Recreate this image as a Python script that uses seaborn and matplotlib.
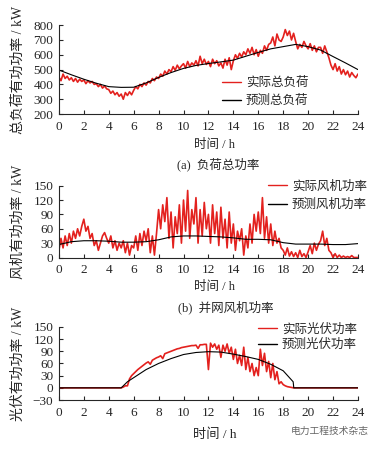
import numpy as np
import matplotlib
matplotlib.use("Agg")
import matplotlib.pyplot as plt
import seaborn as sns

hours = np.arange(25)
t10 = np.arange(145) / 6

load_forecast = [497, 465, 435, 408, 385, 380, 381, 410, 447, 480, 508, 528, 541,
                 552, 564, 590, 616, 640, 655, 670, 655, 632, 588, 545, 500]
load_actual = [
    450, 425, 470, 440, 455, 430,
    445, 420, 440, 415, 435, 420,
    430, 405, 425, 410, 420, 400,
    405, 385, 400, 375, 390, 370,
    365, 340, 355, 330, 345, 320,
    335, 300, 345, 325, 350, 330,
    360, 385, 370, 400, 385, 410,
    395, 420, 410, 440, 425, 450,
    440, 470, 455, 490, 470, 500,
    485, 520, 495, 530, 505, 525,
    540, 510, 555, 520, 545, 530,
    560, 525, 590, 540, 570, 535,
    555, 520, 570, 540, 560, 525,
    545, 510, 570, 530, 580, 500,
    560, 600, 575, 610, 585, 620,
    600, 640, 610, 650, 600, 635,
    590, 630, 610, 660, 630, 670,
    680, 720, 660, 740, 700, 690,
    720, 770, 730, 760, 700, 745,
    690, 640, 670, 650, 690, 660,
    640, 675, 630, 660, 620, 650,
    650, 610, 660, 620, 580, 530,
    500, 540, 490, 520, 470, 500,
    465, 490, 450, 480, 460, 445,
    470]

wind_forecast = [27, 33, 35, 35, 34, 32, 32, 33, 37, 43, 45, 45, 44,
                 43, 41, 38, 38, 37, 31, 28, 28, 28, 27, 27, 29]
wind_actual = [
    15, 40, 20, 45, 25, 50,
    30, 55, 40, 60, 45, 65,
    80, 55, 65, 40, 50, 25,
    35, 15, 30, 45, 52, 40,
    30, 45, 20, 35, 15, 30,
    20, 35, 10, 30, 5, 25,
    20, 45, 15, 50, 25, 55,
    35, 60, 10, 45, 5, 50,
    100, 60, 110, 75, 125, 40,
    95, 20, 85, 50, 110, 30,
    120, 55, 140, 40, 100, 70,
    125, 30, 100, 45, 115, 60,
    90, 30, 110, 50, 95, 25,
    105, 40, 80, 20, 95, 30,
    70, 15, 55, 35, 60, 5,
    45, 20, 70, 30, 90, 55,
    95, 50, 125, 40, 85, 30,
    70, 25, 55, 30, 40, 20,
    15, 5, 20, 3, 12, 2,
    10, 0, 15, 2, 8, 0,
    12, 25, 8, 30, 15, 28,
    35, 55, 25, 40, 15, 10,
    0, 8, 0, 5, 0, 3,
    0, 2, 0, 4, 0, 0,
    0]

pv_forecast_t = [0, 5, 5.5, 6, 7, 8, 9, 10, 11, 12, 13, 14, 15, 16, 17, 18, 18.8, 18.85, 24]
pv_forecast = [0, 0, 15, 25, 45, 60, 72, 82, 87, 89, 88, 83, 77, 70, 58, 42, 15, 0, 0]
pv_actual = [
    0, 0, 0, 0, 0, 0,
    0, 0, 0, 0, 0, 0,
    0, 0, 0, 0, 0, 0,
    0, 0, 0, 0, 0, 0,
    0, 0, 0, 0, 0, 0,
    0, 2, 5, 5, 22, 30,
    35, 40, 45, 49, 53, 57,
    61, 64, 58, 68, 71, 74,
    76, 79, 72, 84, 86, 88,
    90, 92, 94, 96, 97, 99,
    100, 101, 102, 103, 104, 104,
    105, 97, 106, 106, 107, 107,
    45, 110, 100, 108, 95, 105,
    75, 105, 90, 108, 85, 100,
    70, 95, 60, 80, 55, 100,
    45, 75, 40, 60, 30, 50,
    30, 95, 55, 85, 40, 65,
    25, 60, 20, 40, 10, 15,
    8, 5, 3, 2, 1, 0,
    0, 0, 0, 0, 0, 0,
    0, 0, 0, 0, 0, 0,
    0, 0, 0, 0, 0, 0,
    0, 0, 0, 0, 0, 0,
    0, 0, 0, 0, 0, 0,
    0]

sns.set_style("ticks")
fonts = ["Liberation Serif", "Noto Sans CJK SC"]
plt.rcParams["font.family"] = fonts
plt.rcParams["font.size"] = 9
plt.rcParams["xtick.direction"] = "in"
plt.rcParams["ytick.direction"] = "in"
plt.rcParams["axes.linewidth"] = 0.8

red = "#e3211e"
fig = plt.figure(figsize=(3.8, 4.49), dpi=100)

panels = [
    # rect, ylim, yticks, ylabel, legend labels, legend anchor
    ([0.155, 0.746, 0.787, 0.198], (200, 800), range(200, 801, 100), "总负荷有功功率 / kW",
     ("实际总负荷", "预测总负荷"), (0.545, 0.247), 0.5),
    ([0.155, 0.4265, 0.787, 0.160], (0, 150), range(0, 151, 30), "风机有功功率 / kW",
     ("实际风机功率", "预测风机功率"), (0.699, 0.86), 0.5),
    ([0.155, 0.109, 0.787, 0.163], (-30, 150), range(-30, 151, 30), "光伏有功功率 / kW",
     ("实际光伏功率", "预测光伏功率"), (0.666, 0.856), 0.25),
]
series = [
    (t10, load_actual, hours, load_forecast),
    (t10, wind_actual, hours, wind_forecast),
    (t10, pv_actual, pv_forecast_t, pv_forecast),
]

for (rect, ylim, yticks, ylabel, labels, anchor, lspace), (xa, ya, xf, yf) in zip(panels, series):
    ax = fig.add_axes(rect)
    sns.lineplot(x=xa, y=ya, ax=ax, color=red, lw=1.2, label=labels[0], estimator=None, sort=False)
    sns.lineplot(x=xf, y=yf, ax=ax, color="black", lw=0.8, label=labels[1], estimator=None, sort=False)
    ax.set_xlim(0, 24)
    ax.set_ylim(*ylim)
    ax.set_xticks(range(0, 25, 2))
    ax.set_yticks(list(yticks))
    ax.tick_params(length=3, width=0.8, pad=4, labelsize=9.5)
    ax.tick_params(axis="x", pad=5)
    sns.despine(ax=ax)
    ax.set_xlabel("")
    ax.set_ylabel(ylabel, fontsize=10)
    ax.yaxis.set_label_coords(-0.115, 0.5)
    leg = ax.legend(loc="center left", bbox_to_anchor=anchor, frameon=False, fontsize=9,
                    handlelength=1.5, handletextpad=0.4, borderpad=0, borderaxespad=0,
                    labelspacing=lspace)
    for line in leg.get_lines():
        line.set_linewidth(1.0)

# axis titles and captions
fig.text(0.565, 1 - 145 / 449, "时间 / h", ha="center", va="center", fontsize=9)
fig.text(0.565, 1 - 287 / 449, "时间 / h", ha="center", va="center", fontsize=9)
fig.text(0.565, 1 - 435 / 449, "时间 / h", ha="center", va="center", fontsize=9.5)
fig.text(0.575, 1 - 164 / 449, "(a)  负荷总功率", ha="center", va="center", fontsize=9)
fig.text(0.595, 1 - 307 / 449, "(b)  并网风机功率", ha="center", va="center", fontsize=9)
fig.text(0.97, 1 - 431 / 449, "电力工程技术杂志", ha="right", va="center", fontsize=7, color="#666666")

fig.savefig("out.png", dpi=100)
